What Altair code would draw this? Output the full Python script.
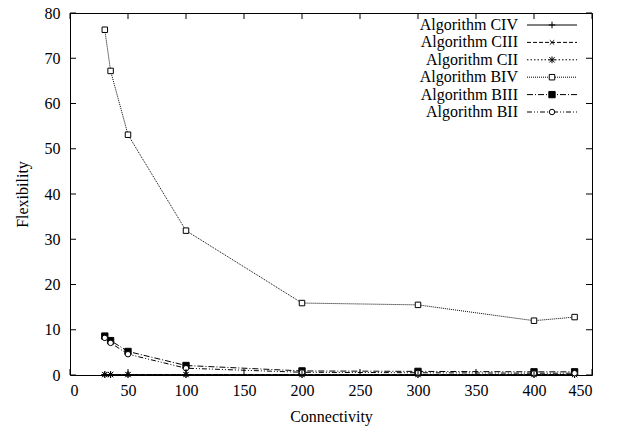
import altair as alt
import pandas as pd

connectivity = [30, 35, 50, 100, 200, 300, 400, 435]
series_names = ["Algorithm CIV", "Algorithm CIII", "Algorithm CII",
                "Algorithm BIV", "Algorithm BIII", "Algorithm BII"]
civ = [0.1, 0.1, 0.1, 0.1, 0.1, 0.1, 0.1, 0.1]
ciii = [0.1, 0.1, 0.1, 0.1, 0.1, 0.1, 0.1, 0.1]
cii = [0.1, 0.1, 0.1, 0.1, 0.1, 0.1, 0.1, 0.1]
biv = [76.3, 67.2, 53.1, 31.9, 15.9, 15.5, 12.0, 12.8]
biii = [8.6, 7.6, 5.2, 2.1, 0.9, 0.8, 0.7, 0.7]
bii = [8.2, 7.1, 4.6, 1.5, 0.6, 0.5, 0.4, 0.4]
x_ticks = [0, 50, 100, 150, 200, 250, 300, 350, 400, 450]
y_ticks = [0, 10, 20, 30, 40, 50, 60, 70, 80]

values = [civ, ciii, cii, biv, biii, bii]
rows = []
for name, vals in zip(series_names, values):
    for xv, yv in zip(connectivity, vals):
        rows.append({"series": name, "x": xv, "y": yv})
df = pd.DataFrame(rows)

PLUS = "M-1,0L1,0M0,-1L0,1"
XMARK = "M-0.8,-0.8L0.8,0.8M-0.8,0.8L0.8,-0.8"
STAR = "M-1,0L1,0M0,-1L0,1M-0.8,-0.8L0.8,0.8M-0.8,0.8L0.8,-0.8"
dashes = [[1, 0], [4, 2], [1.5, 2], [1, 1], [6, 2, 1, 2], [5, 2, 1, 2, 1, 2]]
shapes = [PLUS, XMARK, STAR, "square", "square", "circle"]
fills = ["transparent", "transparent", "transparent", "white", "black", "white"]
sizes = [45, 30, 45, 30, 40, 30]

FONT = "Liberation Serif"
W, H = 522, 362

xs = alt.Scale(domain=[0, 450], nice=False)
ys = alt.Scale(domain=[0, 80], nice=False)

axis_style = dict(tickSize=0, grid=False, domain=False,
                  labelFont=FONT, titleFont=FONT, labelFontSize=16, titleFontSize=16,
                  titleFontWeight="normal", labelColor="black", titleColor="black")

base = alt.Chart(df)
lines = base.mark_line(color="black", strokeWidth=1).encode(
    x=alt.X("x:Q", scale=xs, title="Connectivity",
            axis=alt.Axis(values=x_ticks, labelPadding=7, titlePadding=10, **axis_style)),
    y=alt.Y("y:Q", scale=ys, title="Flexibility",
            axis=alt.Axis(values=y_ticks, labelPadding=10, titlePadding=14, **axis_style)),
    strokeDash=alt.StrokeDash("series:N", scale=alt.Scale(domain=series_names, range=dashes),
                              legend=None),
    detail="series:N",
)

points = []
for i, name in enumerate(series_names):
    p = alt.Chart(df[df.series == name]).mark_point(
        shape=shapes[i], filled=False, stroke="black", fill=fills[i],
        fillOpacity=1, strokeWidth=1, size=sizes[i], opacity=1
    ).encode(x=alt.X("x:Q", scale=xs), y=alt.Y("y:Q", scale=ys))
    points.append(p)

# inward ticks (bottom/top, left/right)
xt = pd.DataFrame({"t": x_ticks})
yt = pd.DataFrame({"t": y_ticks})
tick_layers = [
    alt.Chart(xt).mark_rule(color="black").encode(x=alt.X("t:Q", scale=xs), y=alt.value(H), y2=alt.value(H - 6)),
    alt.Chart(xt).mark_rule(color="black").encode(x=alt.X("t:Q", scale=xs), y=alt.value(0), y2=alt.value(6)),
    alt.Chart(yt).mark_rule(color="black").encode(y=alt.Y("t:Q", scale=ys), x=alt.value(0), x2=alt.value(6)),
    alt.Chart(yt).mark_rule(color="black").encode(y=alt.Y("t:Q", scale=ys), x=alt.value(W), x2=alt.value(W - 6)),
]

# legend (gnuplot style: label on left, sample on right)
legend_layers = []
leg_df = pd.DataFrame({"name": series_names})
for i, name in enumerate(series_names):
    yy = 12 + i * 17.4
    one = leg_df[leg_df.name == name]
    legend_layers.append(alt.Chart(one).mark_text(
        align="right", baseline="middle", font=FONT, fontSize=16, color="black"
    ).encode(text="name:N", x=alt.value(448), y=alt.value(yy)))
    legend_layers.append(alt.Chart(one).mark_rule(
        color="black", strokeWidth=1, strokeDash=dashes[i]
    ).encode(x=alt.value(457), x2=alt.value(507), y=alt.value(yy)))
    legend_layers.append(alt.Chart(one).mark_point(
        shape=shapes[i], filled=False, stroke="black", fill=fills[i], fillOpacity=1,
        strokeWidth=1, size=sizes[i], opacity=1
    ).encode(x=alt.value(482), y=alt.value(yy)))

chart = alt.layer(lines, *points, *tick_layers, *legend_layers).properties(
    width=W, height=H,
    autosize=alt.AutoSizeParams(type="none"),
    padding={"left": 70, "top": 13, "right": 31, "bottom": 55},
    background="white",
).configure_view(stroke="black", strokeWidth=1)

chart.save("out.html", embed_options={"renderer": "svg", "actions": False})
